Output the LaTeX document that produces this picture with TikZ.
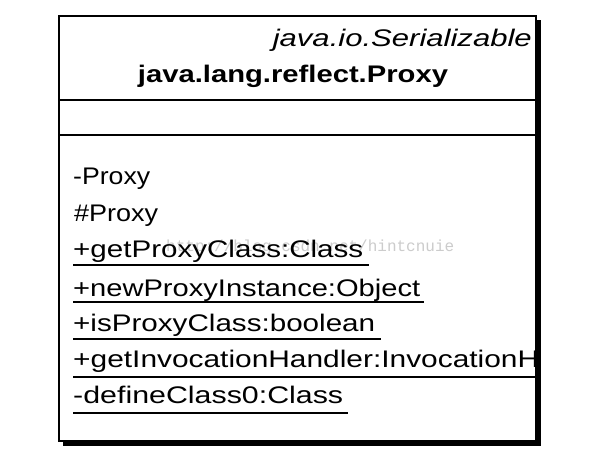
\documentclass[tikz,border=0pt]{standalone}
\usepackage{graphicx}
\usepackage{fontspec}
\setmainfont{Liberation Sans}
\newfontfamily\umlfont{Liberation Sans}
\newfontfamily\wmfont{Liberation Mono}
\newcommand\fitw[2]{\resizebox{#1pt}{\height}{#2}}
\begin{document}
\begin{tikzpicture}[x=1pt,y=-1pt,
  member/.style={anchor=base west,inner sep=0pt,font=\umlfont\fontsize{24}{24}\selectfont},
  uline/.style={line width=1.3pt},
  frame/.style={draw=black,line width=1.6pt,fill=white}]
\useasboundingbox (0,0) rectangle (602,470);
% shadow and box
\fill[black] (63,20) rectangle (541,446);
\draw[frame] (59,16) rectangle (536,441);
\draw[line width=1.3pt] (59,100) -- (536,100);
\draw[line width=1.3pt] (59,135) -- (536,135);
% header
\node[anchor=base east,inner sep=0pt,font=\umlfont\itshape\fontsize{24}{24}\selectfont] (stereo) at (532,47) {\fitw{259}{java.io.Serializable}};
\node[anchor=base,inner sep=0pt,font=\umlfont\bfseries\fontsize{24}{24}\selectfont] (cname) at (293,83) {\fitw{310}{java.lang.reflect.Proxy}};
% watermark
\node[anchor=base west,inner sep=0pt,text=black!20,font=\wmfont\fontsize{16}{16}\selectfont] (wm) at (166,252) {http://blog.csdn.net/hintcnuie};
% members
\begin{scope}
\clip (59,136) rectangle (535,440);
\node[member] (m1) at (73,185) {\fitw{77}{-Proxy}};
\node[member] (m2) at (74,222) {\fitw{84}{\#Proxy}};
\node[member] (m3) at (73,258) {\fitw{290}{+getProxyClass:Class}};
\node[member] (m4) at (73,296) {\fitw{347}{+newProxyInstance:Object}};
\node[member] (m5) at (73,331) {\fitw{302}{+isProxyClass:boolean}};
\node[member] (m6) at (73,367) {\fitw{466}{+getInvocationHandler:InvocationH}};
\node[member] (m7) at (73,403) {\fitw{270}{-defineClass0:Class}};
\end{scope}
% underlines
\draw[uline] (73,265) -- (369,265);
\draw[uline] (73,302) -- (424,302);
\draw[uline] (73,339) -- (381,339);
\draw[uline] (73,377) -- (535,377);
\draw[uline] (73,413) -- (348,413);
\end{tikzpicture}
\end{document}
